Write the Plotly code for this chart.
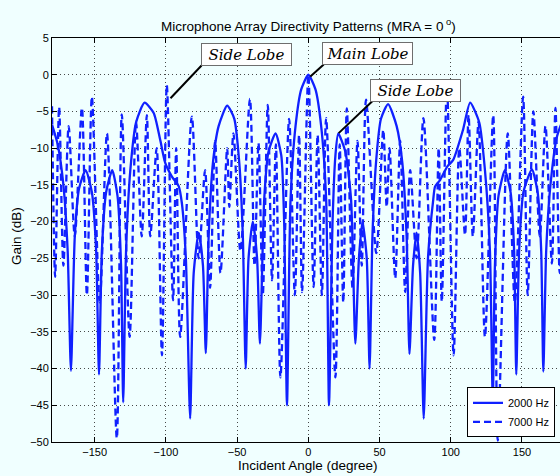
import plotly.graph_objects as go

# ---- data ----
angle_2000 = [-180, -176, -172, -169, -166.7, -164, -161, -156.4, -152, -149, -147, -145, -142,
              -137.7, -134, -131.5, -130, -128, -125, -121, -115, -108.6, -104, -100.5, -95.7,
              -91, -88.8, -86, -83, -80.5, -77, -74, -72, -70, -67, -63, -57, -52, -48.5, -46,
              -44, -42, -39, -36, -34, -31, -28, -23, -19, -17, -15, -12.5, -9, -5, 0, 5, 9,
              12.5, 14.5, 17, 19, 21, 26, 30, 33, 35.5, 38, 41, 43, 45, 47.5, 51, 56, 62, 66,
              69, 71, 73.5, 76, 78.5, 81, 84, 87.7, 89, 92.6, 97.5, 101.7, 108.6, 113.6, 120,
              124, 127.5, 129.5, 131, 133.5, 138, 142, 144.5, 146, 148, 151, 157, 161, 163.5,
              165, 167, 170, 174.6, 180]
gain_2000 = [-6.8, -9.5, -15, -24, -40.3, -22, -15.5, -13, -16, -24, -40.8, -24, -16,
             -13, -16.5, -26, -44.6, -24, -13, -6.5, -3.8, -5.2, -8.9, -12, -13.9,
             -15.2, -17.5, -25, -46.8, -27, -21.5, -26, -37.9, -22, -12, -7, -4.2, -6, -12, -22,
             -40, -25, -20, -25, -36.6, -17, -10.5, -8, -11, -20, -45, -17, -7, -2, 0, -2, -7,
             -17, -45, -20, -11, -8, -10.5, -17, -36.6, -25, -20, -25, -40, -22, -12, -6, -4, -7, -12,
             -22, -38, -26, -21.5, -27, -46.8, -25, -17, -15.2, -14.3, -12.5, -11.6, -7.5, -3.8, -6.5,
             -13, -24, -44.6, -26, -16.5, -13, -16, -24, -40.8, -24, -16, -12.9, -16, -24,
             -40.4, -24, -15, -8.4, -5.5]

angle_7000 = [-180, -177.8, -175, -172, -168.3, -164, -159, -155.5, -152, -146.5, -141.4,
              -134.5, -131, -125.5, -121, -117, -113.4, -111, -106.5, -102.8, -99.4, -95,
              -92.8, -90, -81.8, -77, -72.5, -69, -65.5, -61.7, -57, -55.5, -52.6, -47.7,
              -41, -37.8, -35, -32, -28.5, -25.5, -22.8, -19.6, -13.5, -9.5, -6.5, -4.4, 0,
              3.7, 6.5, 9.5, 12.5, 19, 22, 24.5, 27, 31, 34.5, 37.5, 40.5, 47.7, 52.6, 55,
              57, 61, 64.5, 68, 71.5, 76, 80.8, 88.4, 91.5, 93.7, 97.3, 102, 106, 110,
              112.5, 115.5, 119.5, 124, 129.8, 133, 140, 145, 150.8, 154, 158, 162.5,
              166.5, 171, 173.5, 176.5, 180]
gain_7000 = [-4.3, -27.5, -4.4, -26, -7, -22, -4.5, -30, -3, -31, -8,
             -49.5, -5.4, -35.7, -6.4, -22, -5.5, -22, -10, -38.2, -1.4, -30.7,
             -10, -35.7, -5.7, -25, -13, -29, -9, -27, -10, -18, -8, -24,
             -3.3, -26, -9.3, -30, -4.1, -28, -9.5, -41.2, -6, -30, -8.2, -29.6, 0,
             -28.9, -8.2, -30, -5.9, -41.2, -9.5, -31, -4.6, -29, -9, -26, -3.4, -24.3, -7.5, -18,
             -10, -27.7, -9, -29.6, -13, -25, -5.9, -36.1, -10, -30.9, -1.4, -38.2, -10, -21.8,
             -5.5, -22, -6.4, -35.7, -5.5, -49.8, -8, -31, -3, -30, -5, -22,
             -7, -25.7, -4.5, -27, -4.5]

x_ticks = [-150, -100, -50, 0, 50, 100, 150]
y_ticks = [5, 0, -5, -10, -15, -20, -25, -30, -35, -40, -45, -50]

BLUE = "rgb(16,32,255)"
BG = "rgb(240,255,255)"

# plot-area geometry in pixels (used only to place text)
L, R, T, B = 52, 560, 38.3, 441.7
def px_x(px):
    return (px - L) / (R - L)
def px_y(py):
    return (B - py) / (B - T)

fig = go.Figure()
fig.add_trace(go.Scatter(x=angle_2000, y=gain_2000, mode="lines", name="2000 Hz",
                         line=dict(color=BLUE, width=2.3, shape="spline", smoothing=0.6)))
fig.add_trace(go.Scatter(x=angle_7000, y=gain_7000, mode="lines", name="7000 Hz",
                         line=dict(color=BLUE, width=2.3, dash="7px,4px",
                                   shape="spline", smoothing=0.8)))

axis_font = dict(family="Liberation Sans, Arial, sans-serif", size=11, color="black")
grid = dict(showgrid=True, gridcolor="rgba(40,40,40,0.85)", griddash="1px,3px", gridwidth=1)
fig.update_layout(
    width=560, height=476,
    margin=dict(l=52, r=0, t=38, b=34),
    paper_bgcolor=BG, plot_bgcolor=BG,
    font=axis_font,
    showlegend=True,
    legend=dict(x=px_x(467), y=px_y(437), xanchor="left", yanchor="bottom",
                bgcolor="white", bordercolor="black", borderwidth=1,
                font=dict(family="Liberation Sans, Arial, sans-serif", size=11),
                tracegroupgap=0, itemwidth=30),
    xaxis=dict(range=[-180, 176.7], tickvals=x_ticks, ticks="inside", ticklen=5,
               tickcolor="black", showline=True, linecolor="black", linewidth=1,
               mirror="ticks", zeroline=False, tickfont=axis_font, **grid),
    yaxis=dict(range=[-50, 5], tickvals=y_ticks, ticks="inside", ticklen=5,
               tickcolor="black", showline=True, linecolor="black", linewidth=1,
               mirror=False, zeroline=False, tickfont=axis_font, **grid),
)

# chart title and axis titles
title_font = dict(family="Liberation Sans, Arial, sans-serif", size=13.5, color="black")
fig.add_annotation(text="Microphone Array Directivity Patterns (MRA = 0<sup> o</sup>)",
                   xref="paper", yref="paper", x=px_x(308), y=px_y(25),
                   xanchor="center", yanchor="middle", showarrow=False, font=title_font)
fig.add_annotation(text="Incident Angle (degree)", xref="paper", yref="paper",
                   x=px_x(308), y=px_y(465), xanchor="center", yanchor="middle",
                   showarrow=False, font=title_font)
fig.add_annotation(text="Gain (dB)", xref="paper", yref="paper", x=px_x(17), y=px_y(236),
                   xanchor="center", yanchor="middle", showarrow=False, textangle=-90,
                   font=title_font)

# callouts: leader lines + boxed labels
label_font = dict(family="DejaVu Serif, serif", size=15, color="black")
callouts = [
    ("Side Lobe", -43.2, 2.76, (-75.0, 1.25), (-96.8, -3.2)),
    ("Main Lobe", 41.3, 2.83, (10.8, 1.4), (1.4, -0.25)),
    ("Side Lobe", 75.3, -2.18, (44.9, -3.6), (21.3, -7.95)),
]
for txt, cx, cy, p0, p1 in callouts:
    fig.add_shape(type="line", xref="x", yref="y", x0=p0[0], y0=p0[1], x1=p1[0], y1=p1[1],
                  line=dict(color="black", width=2))
    fig.add_annotation(text="<i>" + txt + "</i>", xref="x", yref="y", x=cx, y=cy,
                       showarrow=False, bgcolor="white", bordercolor="rgb(110,110,110)",
                       borderwidth=1, borderpad=1, width=87, height=19, font=label_font)

fig.write_html("out.html", config={"displayModeBar": False},
               post_script="document.body.style.margin='0px';")
